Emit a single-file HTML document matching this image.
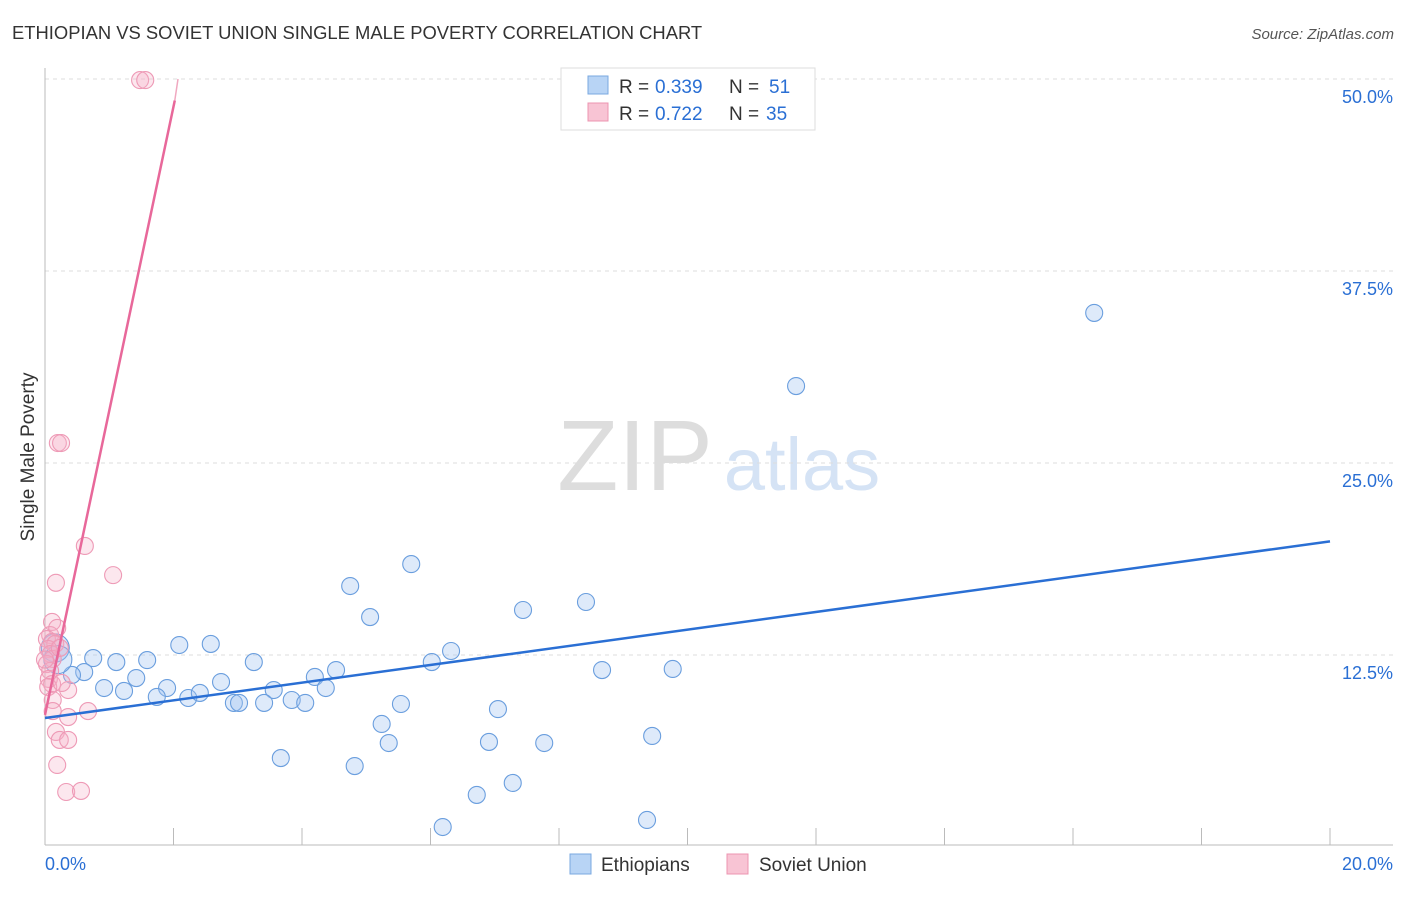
<!DOCTYPE html>
<html><head><meta charset="utf-8"><style>
body{margin:0;background:#fff;font-family:"Liberation Sans",sans-serif}
svg text{font-family:"Liberation Sans",sans-serif}
</style></head><body>
<svg id="c" width="1406" height="892" xmlns="http://www.w3.org/2000/svg">
<text x="12" y="39" font-size="18.4" fill="#333">ETHIOPIAN VS SOVIET UNION SINGLE MALE POVERTY CORRELATION CHART</text>
<text x="1394" y="39" font-size="15" fill="#555" font-style="italic" text-anchor="end">Source: ZipAtlas.com</text>
<text x="34" y="457" font-size="19" fill="#333" transform="rotate(-90 34 457)" text-anchor="middle">Single Male Poverty</text>
<g><text x="635" y="490" font-size="100" fill="#ddd" font-family="Liberation Serif" text-anchor="middle">ZIP</text><text x="802" y="490" font-size="74" fill="#d5e3f5" text-anchor="middle">atlas</text></g>
<g id="grid"></g><g id="axes"></g><g id="marks"></g>
<g>
<rect x="561" y="68" width="254" height="62" fill="#fff" stroke="#ddd"/>
<rect x="588" y="76" width="20" height="18" fill="#b8d4f5" stroke="#7aa8e0"/>
<rect x="588" y="103" width="20" height="18" fill="#f8c4d4" stroke="#ec94b0"/>
<text x="619" y="93" font-size="19" fill="#333">R = </text><text x="655" y="93" font-size="19" fill="#2a6fd4">0.339</text>
<text x="729" y="93" font-size="19" fill="#333">N = </text><text x="769" y="93" font-size="19" fill="#2a6fd4">51</text>
<text x="619" y="120" font-size="19" fill="#333">R = </text><text x="655" y="120" font-size="19" fill="#2a6fd4">0.722</text>
<text x="729" y="120" font-size="19" fill="#333">N = </text><text x="766" y="120" font-size="19" fill="#2a6fd4">35</text>
</g>
<g>
<rect x="570" y="854" width="21" height="20" fill="#b8d4f5" stroke="#7aa8e0"/>
<text x="601" y="871" font-size="19" fill="#333">Ethiopians</text>
<rect x="727" y="854" width="21" height="20" fill="#f8c4d4" stroke="#ec94b0"/>
<text x="759" y="871" font-size="19" fill="#333">Soviet Union</text>
</g>
</svg>
<script>
const yTicks=[12.5,25,37.5,50];
const yTickLabels=["12.5%","25.0%","37.5%","50.0%"];
const xTicks=[0,2,4,6,8,10,12,14,16,18,20];
const blueX=[16.33,11.69,5.70,4.75,5.06,7.44,8.42,2.09,2.58,6.32,6.02,8.67,9.77,0.75,1.11,1.59,3.25,0.61,0.42,1.42,4.53,4.20,2.74,0.92,1.23,1.90,2.23,2.41,3.56,4.37,1.74,2.94,3.02,3.41,3.84,4.05,5.54,7.05,5.24,5.35,6.91,7.77,9.45,3.67,4.82,7.28,6.72,6.19,9.37,0.16,0.20];
const blueY=[34.77,30.01,18.42,16.99,14.97,15.43,15.95,13.15,13.22,12.76,12.04,11.52,11.59,12.30,12.04,12.17,12.04,11.39,11.20,11.00,11.52,11.07,10.74,10.35,10.16,10.35,9.70,10.03,10.22,10.35,9.77,9.38,9.38,9.38,9.57,9.38,9.31,8.98,8.01,6.77,6.84,6.77,7.23,5.79,5.27,4.17,3.39,1.30,1.76,12.96,12.2];
const pinkX=[1.48,1.56,0.20,0.25,0.62,1.06,0.17,0.11,0.08,0.19,0.03,0.11,0.16,0.05,0.09,0.12,0.03,0.08,0.06,0.11,0.05,0.36,0.26,0.12,0.36,0.67,0.12,0.17,0.23,0.36,0.19,0.33,0.56,0.0,0.23];
const pinkY=[49.93,49.93,26.30,26.30,19.6,17.7,17.2,14.65,13.8,14.26,13.54,13.35,13.22,12.89,12.57,12.24,11.91,11.46,10.94,10.61,10.42,10.22,10.68,9.57,8.46,8.85,8.85,7.49,6.97,6.97,5.34,3.58,3.65,12.2,12.96];
const blueTrend=[0,8.4,20,19.9];
const pinkTrend=[0,8.6,2.02,48.6];
const pinkExt=[2.07,50];
const X=v=>45+v/20*1285, Y=v=>847-v/50*768;
const NS="http://www.w3.org/2000/svg";
function mk(t,a,p){const e=document.createElementNS(NS,t);for(const k in a)e.setAttribute(k,a[k]);document.getElementById(p).appendChild(e);return e;}
yTicks.forEach((t,i)=>{
 const l=mk('line',{x1:45,x2:1393,y1:Y(t),y2:Y(t),stroke:'#ddd','stroke-dasharray':'4,4'},'grid');
 
 
 const tx=mk('text',{x:1393,y:Y(t)+24,'font-size':18,fill:'#2a6fd4','text-anchor':'end'},'axes');
 tx.textContent=yTickLabels[i];
 
 
});
mk('line',{x1:45,x2:45,y1:68,y2:845,stroke:'#bbb'},'axes');
mk('line',{x1:45,x2:1393,y1:845,y2:845,stroke:'#bbb'},'axes');
xTicks.forEach(t=>{const l=mk('line',{x1:X(t),x2:X(t),y1:828,y2:845,stroke:'#bbb'},'axes');
 
 });
let a=mk('text',{x:45,y:870,'font-size':18,fill:'#2a6fd4'},'axes');a.textContent='0.0%';


a=mk('text',{x:1393,y:870,'font-size':18,fill:'#2a6fd4','text-anchor':'end'},'axes');a.textContent='20.0%';


blueX.forEach((v,i)=>{const c=mk('circle',{cx:X(v),cy:Y(blueY[i]),r:i>=49?14:8.5,fill:'rgba(160,196,240,0.35)',stroke:'#6a9ede','stroke-width':1.1},'marks');
 
 });
pinkX.forEach((v,i)=>{const c=mk('circle',{cx:X(v),cy:Y(pinkY[i]),r:8.5,fill:'rgba(245,175,198,0.3)',stroke:'#ee9ab6','stroke-width':1.1},'marks');
 
 });
let t=mk('line',{x1:X(blueTrend[0]),y1:Y(blueTrend[1]),x2:X(blueTrend[2]),y2:Y(blueTrend[3]),stroke:'#2a6fd4','stroke-width':2.5},'marks');


t=mk('line',{x1:X(pinkTrend[0]),y1:Y(pinkTrend[1]),x2:X(pinkTrend[2]),y2:Y(pinkTrend[3]),stroke:'#e8689a','stroke-width':2.5},'marks');


t=mk('line',{x1:X(pinkTrend[2]),y1:Y(pinkTrend[3]),x2:X(pinkExt[0]),y2:Y(pinkExt[1]),stroke:'#f0a8c0','stroke-width':1.5},'marks');


</script>
</body></html>
